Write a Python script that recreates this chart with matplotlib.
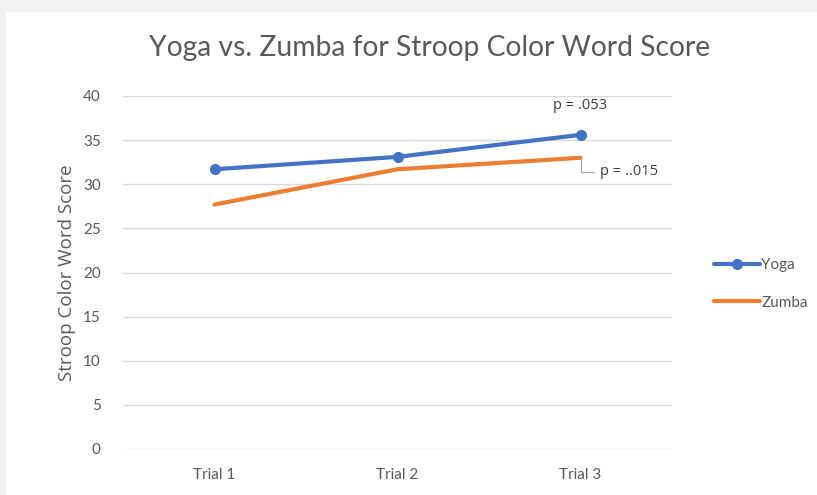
import matplotlib
matplotlib.use('Agg')
import matplotlib.pyplot as plt
from matplotlib.patches import Rectangle

plt.rcParams['font.family'] = ['Lato', 'DejaVu Sans']

trials = ['Trial 1', 'Trial 2', 'Trial 3']
yoga = [31.7, 33.1, 35.6]
zumba = [27.7, 31.7, 33.0]
y_ticks = [0, 5, 10, 15, 20, 25, 30, 35, 40]

BLUE = '#4472c4'
ORANGE = '#ed7d31'
TEXT = '#595959'
GRID = '#d9d9d9'

W, H = 817, 495
fig = plt.figure(figsize=(W / 100, H / 100), dpi=100, facecolor='#f0f1f3')
# white chart card behind everything
fig.patches.append(Rectangle((6 / W, 0), 1 - 6 / W, 1 - 12 / H,
                             transform=fig.transFigure, facecolor='white',
                             edgecolor='none', zorder=-10))

ax = fig.add_axes([123 / W, 1 - 449 / H, (672 - 123) / W, (449 - 96) / H])
ax.set_facecolor('white')
x = list(range(len(trials)))

ax.plot(x, yoga, color=BLUE, lw=3, marker='o', ms=7, label='Yoga',
        solid_capstyle='round', zorder=3)
ax.plot(x, zumba, color=ORANGE, lw=3, label='Zumba',
        solid_capstyle='round', zorder=3)

ax.set_xlim(-0.5, 2.5)
ax.set_ylim(0, 40)
ax.set_xticks(x)
ax.set_xticklabels(trials)
ax.set_yticks(y_ticks)
ax.grid(axis='y', color=GRID, lw=1)
ax.set_axisbelow(True)
for s in ax.spines.values():
    s.set_visible(False)
ax.tick_params(length=0, labelsize=11, colors=TEXT)
ax.tick_params(axis='y', pad=16)
ax.tick_params(axis='x', pad=14)

ax.set_ylabel('Stroop Color Word Score', fontsize=13.5, color=TEXT,
              labelpad=5, family=['Open Sans', 'DejaVu Sans'])
fig.text(430 / W, 1 - 48 / H, 'Yoga vs. Zumba for Stroop Color Word Score',
         ha='center', va='center', fontsize=20.3, color=TEXT)

# p-value labels
ax.annotate('p = .053', xy=(x[2], yoga[2]), xytext=(0, 21),
            textcoords='offset points', ha='center', va='center',
            fontsize=10.5, color='#404040', family=['Open Sans', 'DejaVu Sans'])
ax.annotate('p = ..015', xy=(x[2], zumba[2]), xytext=(14, -10),
            textcoords='offset points', ha='left', va='center',
            fontsize=10.5, color='#404040', family=['Open Sans', 'DejaVu Sans'],
            arrowprops=dict(arrowstyle='-', color='#a6a6a6', lw=0.8,
                            connectionstyle='angle,angleA=0,angleB=90,rad=0',
                            shrinkA=2, shrinkB=1))

leg = fig.legend(loc='center left', bbox_to_anchor=(700 / W, 1 - 284 / H),
                 frameon=False, fontsize=11, labelcolor=TEXT,
                 handlelength=3, labelspacing=1.55, handletextpad=0.1)

fig.savefig('out.png', dpi=100, facecolor=fig.get_facecolor())
